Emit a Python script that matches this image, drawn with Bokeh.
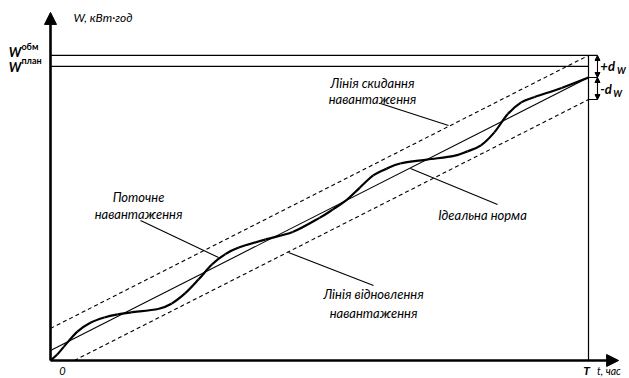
from bokeh.plotting import figure
from bokeh.models import Range1d, Arrow, NormalHead
from bokeh.core.properties import value
from bokeh.embed import file_html
from bokeh.resources import INLINE

# ---- data (t in units of T/10, W in relative units) ----
T = 10.0
t_load = [0, 0.125, 0.25, 0.5, 0.75, 1.0, 1.25, 1.5, 2.0, 2.25, 2.5, 2.75, 3.0, 3.25, 3.5,
          4.0, 4.5, 5.0, 5.25, 5.5, 5.75, 6.0, 6.25, 6.5, 7.0, 7.5, 7.75, 8.0, 8.25,
          8.5, 8.75, 9.0, 9.5, 10.0]
w_load = [0, 0.21, 0.49, 1.02, 1.34, 1.52, 1.63, 1.70, 1.82, 2.01, 2.37, 2.86, 3.39, 3.76, 3.99,
          4.28, 4.54, 5.04, 5.34, 5.67, 6.11, 6.54, 6.78, 6.96, 7.10, 7.23, 7.39, 7.60, 8.06,
          8.71, 9.12, 9.31, 9.63, 10.0]
w_ideal = [0.353, 10.0]      # ideal norm at t=0 and t=T
d_w = 0.78                   # tolerance band
w_obm = 10.78
w_plan = 10.39

FONT = value("Lato")

p = figure(width=629, height=378, output_backend="svg", toolbar_location=None,
           x_range=Range1d(-50 / 53.8, 579 / 53.8), y_range=Range1d(-18 / 28.3, 360 / 28.3),
           x_axis_type=None, y_axis_type=None, min_border=0)
p.grid.visible = False
p.outline_line_color = None
p.background_fill_color = "white"
p.border_fill_color = "white"

K = "black"
slope = (w_ideal[1] - w_ideal[0]) / T

# horizontal W lines
p.line([0, 10.167], [w_obm, w_obm], line_color=K, line_width=1.3)
p.line([0, T], [w_plan, w_plan], line_color=K, line_width=1.3)
# T vertical
p.line([T, T], [0, w_obm], line_color=K, line_width=1.2)

# ideal and band lines
p.line([0, T], w_ideal, line_color=K, line_width=1.1)
p.line([0, T], [w_ideal[0] + d_w, w_ideal[1] + d_w], line_color=K, line_width=1.1, line_dash="4 3")
t0 = (d_w - w_ideal[0]) / slope
p.line([t0, T], [0, w_ideal[1] - d_w], line_color=K, line_width=1.1, line_dash="4 3")

# load curve: smooth curve through the read points (Catmull-Rom as cubic Bezier segments)
n = len(t_load)
x0, y0, x1, y1, cx0, cy0, cx1, cy1 = [], [], [], [], [], [], [], []
for i in range(n - 1):
    im = max(i - 1, 0)
    ip = min(i + 2, n - 1)
    x0.append(t_load[i]); y0.append(w_load[i])
    x1.append(t_load[i + 1]); y1.append(w_load[i + 1])
    cx0.append(t_load[i] + (t_load[i + 1] - t_load[im]) / 6)
    cy0.append(w_load[i] + (w_load[i + 1] - w_load[im]) / 6)
    cx1.append(t_load[i + 1] - (t_load[ip] - t_load[i]) / 6)
    cy1.append(w_load[i + 1] - (w_load[ip] - w_load[i]) / 6)
p.bezier(x0=x0, y0=y0, x1=x1, y1=y1, cx0=cx0, cy0=cy0, cx1=cx1, cy1=cy1,
         line_color=K, line_width=2.2)

# bracket ticks
xb = 10.167
p.line([T, xb], [w_ideal[1], w_ideal[1]], line_color=K, line_width=1.1)
p.line([T, xb], [w_ideal[1] - d_w, w_ideal[1] - d_w], line_color=K, line_width=1.1)
for a, b in [(w_obm, w_ideal[1]), (w_ideal[1], w_ideal[1] - d_w)]:
    p.add_layout(Arrow(start=NormalHead(size=5, fill_color=K, line_color=K),
                       end=NormalHead(size=5, fill_color=K, line_color=K),
                       x_start=xb, y_start=a, x_end=xb, y_end=b, line_width=1.1, line_color=K))

# axes with arrows
p.add_layout(Arrow(end=NormalHead(size=12, fill_color=K, line_color=K),
                   x_start=0, y_start=0, x_end=0, y_end=12.3, line_width=2.6, line_color=K))
p.add_layout(Arrow(end=NormalHead(size=12, fill_color=K, line_color=K),
                   x_start=0, y_start=0, x_end=10.56, y_end=0, line_width=2.6, line_color=K))

# leader lines
for xs, ys in [([1.673, 3.123], [4.947, 3.640]),
               ([4.424, 6.004], [3.816, 2.650]),
               ([6.134, 7.398], [9.081, 8.304]),
               ([6.691, 8.309], [6.784, 5.512])]:
    p.line(xs, ys, line_color=K, line_width=1.1)

def txt(x, y, s, size="13px", style="italic", align="center", base="middle"):
    p.text(x=[x], y=[y], text=[s], text_font=FONT, text_font_size=size,
           text_font_style=style, text_align=align, text_baseline=base, text_color=K)

txt(1.636, 5.795, "Поточне")
txt(1.636, 5.194, "навантаження")
txt(6.004, 2.367, "Лінія відновлення")
txt(6.004, 1.696, "навантаження")
txt(5.985, 9.823, "Лінія скидання")
txt(5.985, 9.223, "навантаження")
txt(8.03, 5.124, "Ідеальна норма")
txt(0.428, 12.12, "W, кВт·год", size="12px", align="left")
txt(0.223, -0.36, "0", size="11px")
txt(9.963, -0.36, "T", size="12px", style="bold italic")
txt(10.16, -0.36, "t, час", size="10.5px", align="left")

# W labels
txt(-0.54, 10.9, "W", size="13px", style="bold italic", align="right")
txt(-0.54, 11.1, "обм", size="9px", style="bold", align="left")
txt(-0.54, 10.38, "W", size="13px", style="bold italic", align="right")
txt(-0.54, 10.6, "план", size="9px", style="bold", align="left")

# +dW / -dW
txt(10.22, 10.4, "+d", size="13px", style="bold italic", align="left")
txt(10.53, 10.25, "W", size="9px", style="bold italic", align="left")
txt(10.22, 9.58, "-d", size="13px", style="bold italic", align="left")
txt(10.46, 9.43, "W", size="9px", style="bold italic", align="left")

open("out.html", "w").write(file_html(p, INLINE))
